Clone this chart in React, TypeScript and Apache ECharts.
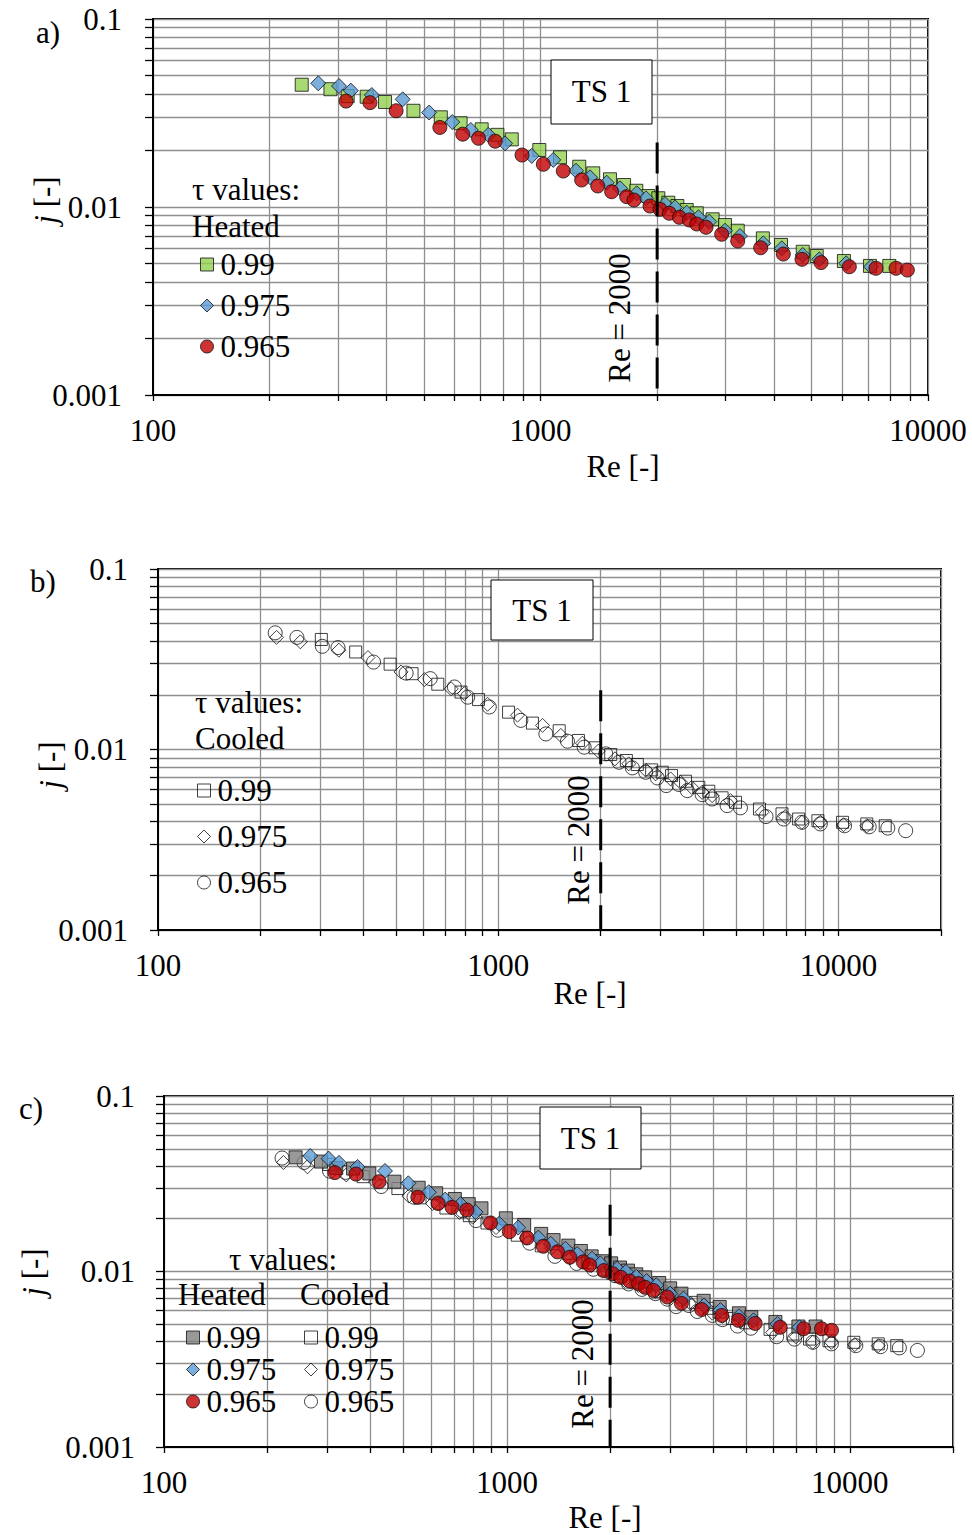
import React, { useEffect, useRef } from 'react';
import * as echarts from 'echarts';

// ---------- data (Re, j) ----------
const heated099 = [
  [242, 0.0447], [287, 0.0423], [318, 0.0389], [356, 0.0386], [397, 0.0362], [470, 0.0325],
  [553, 0.03], [622, 0.0279], [705, 0.0259], [774, 0.0242], [843, 0.0229], [993, 0.0201],
  [1123, 0.01838], [1259, 0.01638], [1368, 0.0151], [1511, 0.01404], [1643, 0.01309],
  [1767, 0.0122], [1898, 0.01144], [2014, 0.01113], [2137, 0.01054], [2255, 0.01012],
  [2384, 0.00964], [2531, 0.00926], [2781, 0.0086], [2993, 0.00802], [3228, 0.00748],
  [3748, 0.00681], [4175, 0.00628], [4751, 0.00578], [5162, 0.00549], [6068, 0.00516],
  [7083, 0.00486], [7946, 0.00486]
];
const heated0975 = [
  [267, 0.0455], [302, 0.044], [324, 0.0416], [367, 0.0394], [441, 0.0374], [516, 0.0318],
  [592, 0.0283], [661, 0.0257], [733, 0.0242], [810, 0.0218], [949, 0.0187], [1079, 0.0178],
  [1235, 0.0156], [1342, 0.01439], [1482, 0.01347], [1604, 0.01258], [1771, 0.01183],
  [1872, 0.01113], [2096, 0.01037], [2224, 0.00996], [2384, 0.00933], [2556, 0.00882],
  [2727, 0.00836], [2993, 0.00748], [3272, 0.00701], [3758, 0.00641], [4195, 0.00603],
  [4751, 0.00556], [5240, 0.00527], [6150, 0.00502], [7130, 0.00481]
];
const heated0965 = [
  [315, 0.0366], [363, 0.0359], [424, 0.0325], [550, 0.0265], [630, 0.0244], [692, 0.0232],
  [764, 0.0224], [896, 0.0189], [1017, 0.01687], [1145, 0.01554], [1277, 0.01392],
  [1405, 0.01294], [1526, 0.01206], [1669, 0.01135], [1743, 0.01089], [1917, 0.01012],
  [2034, 0.00972], [2150, 0.00926], [2282, 0.00882], [2421, 0.00853], [2531, 0.00812],
  [2674, 0.0078], [2935, 0.00716], [3228, 0.00659], [3700, 0.00607], [4233, 0.00562],
  [4731, 0.00527], [5296, 0.00506], [6266, 0.00481], [7339, 0.00472], [8270, 0.00472],
  [8846, 0.00462]
];
const cooled099 = [
  [302, 0.0407], [381, 0.0347], [481, 0.0297], [558, 0.0263], [664, 0.023], [777, 0.0208],
  [875, 0.0189], [1072, 0.0161], [1260, 0.014], [1510, 0.0127], [1720, 0.01122],
  [1925, 0.01022], [2140, 0.00938], [2379, 0.00869], [2562, 0.00826], [2823, 0.00771],
  [3033, 0.00748], [3230, 0.00717], [3551, 0.00667], [3884, 0.00617], [4156, 0.00587],
  [4547, 0.0054], [4978, 0.0051], [5855, 0.00468], [6820, 0.0044], [7632, 0.00412],
  [8696, 0.00403], [10273, 0.00395], [12106, 0.00387], [13710, 0.00378]
];
const cooled0975 = [
  [223, 0.0418], [262, 0.0395], [340, 0.0355], [414, 0.0323], [518, 0.0269], [607, 0.0244],
  [727, 0.0217], [795, 0.0204], [930, 0.0178], [1139, 0.0155], [1349, 0.0136], [1527, 0.01197],
  [1767, 0.01084], [1968, 0.0098], [2203, 0.00888], [2417, 0.00833], [2711, 0.00771],
  [2900, 0.00733], [3210, 0.00687], [3434, 0.00658], [3699, 0.00617], [3973, 0.00579],
  [4252, 0.00555], [4813, 0.00521], [5957, 0.00449], [6970, 0.00425], [7803, 0.00395],
  [8838, 0.00395], [10340, 0.00383], [12106, 0.00378]
];
const cooled0965 = [
  [221, 0.0443], [256, 0.0418], [304, 0.0373], [338, 0.0367], [430, 0.0305], [536, 0.0265],
  [631, 0.0247], [743, 0.0222], [813, 0.0195], [941, 0.0172], [1165, 0.0145], [1380, 0.0122],
  [1597, 0.01112], [1788, 0.0103], [2069, 0.00946], [2264, 0.0085], [2477, 0.00791],
  [2711, 0.00748], [2933, 0.00696], [3115, 0.00631], [3395, 0.0064], [3592, 0.00592],
  [3973, 0.00562], [4252, 0.00532], [4705, 0.00489], [5148, 0.00475], [6120, 0.00425],
  [6899, 0.00412], [7803, 0.00395], [8838, 0.00387], [10413, 0.00378], [12300, 0.00373],
  [13953, 0.00367], [15750, 0.00355]
];

// Re = 2000 marker lines (top j, bottom j)
const reLineA = [[2000, 0.022], [2000, 0.001]];
const reLineB = [[2000, 0.0213], [2000, 0.001]];
const reLineC = [[2000, 0.024], [2000, 0.001]];

// ---------- axes ticks ----------
const xLabelValues = [100, 1000, 10000];
const xLabelTexts = ['100', '1000', '10000'];
const yLabelValues = [0.001, 0.01, 0.1];
const yLabelTexts = ['0.001', '0.01', '0.1'];
const xGridA = [100, 200, 300, 400, 500, 600, 700, 800, 900, 1000, 2000, 3000, 4000, 5000, 6000, 7000, 8000, 9000, 10000];
const xGridBC = [100, 200, 300, 400, 500, 600, 700, 800, 900, 1000, 2000, 3000, 4000, 5000, 6000, 7000, 8000, 9000, 10000, 20000];
const yGrid = [0.001, 0.002, 0.003, 0.004, 0.005, 0.006, 0.007, 0.008, 0.009, 0.01, 0.02, 0.03, 0.04, 0.05, 0.06, 0.07, 0.08, 0.09, 0.1];
const legendValues = ['0.99', '0.975', '0.965'];

const FONT = "'Liberation Serif', 'Times New Roman', serif";
const FS = 31;

function nearestLabel(v: number, vals: number[], texts: string[]) {
  let best = 0;
  let bd = Infinity;
  vals.forEach((x, i) => {
    const d = Math.abs(Math.log10(x) - Math.log10(v));
    if (d < bd) { bd = d; best = i; }
  });
  return texts[best];
}

function xAxisCfg(gridIndex: number, max: number, ticks: number[], margin: number) {
  return {
    type: 'log', logBase: 10, gridIndex, min: 100, max,
    axisLine: { show: true, onZero: false, lineStyle: { color: '#000', width: 2 } },
    axisTick: { show: true, customValues: ticks, length: 6, inside: false, lineStyle: { color: '#000', width: 1.3 } },
    axisLabel: {
      show: true, customValues: xLabelValues, margin, color: '#000', fontFamily: FONT, fontSize: FS,
      formatter: (v: number) => nearestLabel(v, xLabelValues, xLabelTexts)
    },
    splitLine: { show: true, lineStyle: { color: '#8f8f8f', width: 1.3 } },
    minorTick: { show: false },
    minorSplitLine: { show: false }
  };
}

function yAxisCfg(gridIndex: number, margin: number) {
  return {
    type: 'log', logBase: 10, gridIndex, min: 0.001, max: 0.1,
    axisLine: { show: true, onZero: false, lineStyle: { color: '#000', width: 2 } },
    axisTick: { show: true, customValues: yGrid, length: 8, inside: false, lineStyle: { color: '#000', width: 1.3 } },
    axisLabel: {
      show: true, customValues: yLabelValues, margin, color: '#000', fontFamily: FONT, fontSize: FS,
      formatter: (v: number) => nearestLabel(v, yLabelValues, yLabelTexts)
    },
    splitLine: { show: true, lineStyle: { color: '#8f8f8f', width: 1.3 } },
    minorTick: { show: false },
    minorSplitLine: { show: false }
  };
}

function scatter(name: string, idx: number, data: number[][], symbol: string, size: number, color: string) {
  return {
    type: 'scatter', name, xAxisIndex: idx, yAxisIndex: idx, data, symbol, symbolSize: size,
    itemStyle: { color, borderColor: '#111', borderWidth: 1 }, z: 3, silent: true
  };
}

function dashLine(idx: number, data: number[][]) {
  return {
    type: 'line', xAxisIndex: idx, yAxisIndex: idx, data, symbol: 'none', silent: true, z: 4,
    lineStyle: { color: '#000', width: 3, type: [31, 12] }
  };
}

function legendCfg(prefix: string, left: number, top: number, gap: number) {
  return {
    show: true, orient: 'vertical', left, top, padding: 0, itemGap: gap,
    itemWidth: 13, itemHeight: 13, selectedMode: false,
    data: legendValues.map((v) => prefix + '|' + v),
    formatter: (n: string) => n.split('|')[1],
    textStyle: { fontFamily: FONT, fontSize: FS, color: '#000', lineHeight: 30, padding: [0, 0, 0, 2] },
    itemStyle: { borderColor: '#111', borderWidth: 1 }
  };
}

function txt(text: string, x: number, y: number, align = 'center', rotation = 0, extra: any = {}) {
  return {
    type: 'text', x, y, rotation, z: 20,
    style: Object.assign({
      text, fontFamily: FONT, fontSize: FS, fill: '#000', align, verticalAlign: 'middle'
    }, extra)
  };
}

function box(x: number, y: number, w: number, h: number) {
  return {
    type: 'rect', z: 15,
    shape: { x, y, width: w, height: h },
    style: { fill: '#fff', stroke: '#000', lineWidth: 1 }
  };
}

const jRich = {
  rich: {
    i: { fontFamily: FONT, fontSize: FS, fontStyle: 'italic', fill: '#000' },
    n: { fontFamily: FONT, fontSize: FS, fill: '#000' }
  }
};

export default function App() {
  const ref = useRef<HTMLDivElement>(null);
  useEffect(() => {
    document.body.style.margin = '0';
    if (!ref.current) return;
    const chart = echarts.init(ref.current, undefined, { renderer: 'svg' });
    const option: any = {
      animation: false,
      backgroundColor: '#fff',
      grid: [
        { left: 153, top: 19, width: 775, height: 376, show: true, borderColor: '#000', borderWidth: 2, backgroundColor: 'transparent', containLabel: false, outerBoundsMode: 'none' },
        { left: 158, top: 569, width: 783, height: 361, show: true, borderColor: '#000', borderWidth: 2, backgroundColor: 'transparent', containLabel: false, outerBoundsMode: 'none' },
        { left: 164, top: 1096, width: 789, height: 351, show: true, borderColor: '#000', borderWidth: 2, backgroundColor: 'transparent', containLabel: false, outerBoundsMode: 'none' }
      ],
      xAxis: [xAxisCfg(0, 10000, xGridA, 20), xAxisCfg(1, 20000, xGridBC, 20), xAxisCfg(2, 20000, xGridBC, 20)],
      yAxis: [yAxisCfg(0, 31), yAxisCfg(1, 30), yAxisCfg(2, 29)],
      legend: [
        legendCfg('a', 200, 249, 10),
        legendCfg('b', 197, 775, 15),
        legendCfg('ch', 186, 1322, 1),
        legendCfg('cc', 304, 1322, 1)
      ],
      series: [
        scatter('a|0.99', 0, heated099, 'rect', 13, '#92D050'),
        scatter('a|0.975', 0, heated0975, 'diamond', 15, '#5B9BD5'),
        scatter('a|0.965', 0, heated0965, 'circle', 14, '#C00000'),
        dashLine(0, reLineA),
        scatter('b|0.99', 1, cooled099, 'rect', 12, 'transparent'),
        scatter('b|0.975', 1, cooled0975, 'diamond', 14, 'transparent'),
        scatter('b|0.965', 1, cooled0965, 'circle', 14, 'transparent'),
        dashLine(1, reLineB),
        scatter('cc|0.99', 2, cooled099, 'rect', 12, 'transparent'),
        scatter('cc|0.975', 2, cooled0975, 'diamond', 14, 'transparent'),
        scatter('cc|0.965', 2, cooled0965, 'circle', 14, 'transparent'),
        scatter('ch|0.99', 2, heated099, 'rect', 13, '#808080'),
        scatter('ch|0.975', 2, heated0975, 'diamond', 15, '#5B9BD5'),
        scatter('ch|0.965', 2, heated0965, 'circle', 14, '#C00000'),
        dashLine(2, reLineC)
      ],
      graphic: [
        txt('a)', 48, 32), txt('b)', 43, 581), txt('c)', 31, 1108),
        box(551, 60, 101, 64), txt('TS 1', 601.5, 91),
        box(491, 580, 102, 60), txt('TS 1', 542, 610),
        box(540, 1107, 101, 62), txt('TS 1', 590.5, 1138),
        txt('τ values:', 192, 189, 'left'), txt('Heated', 192, 226, 'left'),
        txt('τ values:', 195, 702, 'left'), txt('Cooled', 195, 738, 'left'),
        txt('τ values:', 229, 1259, 'left'), txt('Heated', 178, 1294, 'left'), txt('Cooled', 300, 1294, 'left'),
        txt('Re = 2000', 619, 318, 'center', Math.PI / 2),
        txt('Re = 2000', 578, 840, 'center', Math.PI / 2),
        txt('Re = 2000', 582, 1364, 'center', Math.PI / 2),
        txt('Re [-]', 623, 466), txt('Re [-]', 590, 993), txt('Re [-]', 605, 1517),
        txt('{i|j}{n| [-]}', 45, 200, 'center', Math.PI / 2, jRich),
        txt('{i|j}{n| [-]}', 50, 765, 'center', Math.PI / 2, jRich),
        txt('{i|j}{n| [-]}', 33, 1272, 'center', Math.PI / 2, jRich)
      ]
    };
    chart.setOption(option);
    return () => chart.dispose();
  }, []);
  return <div ref={ref} style={{ width: 972, height: 1535 }} />;
}
